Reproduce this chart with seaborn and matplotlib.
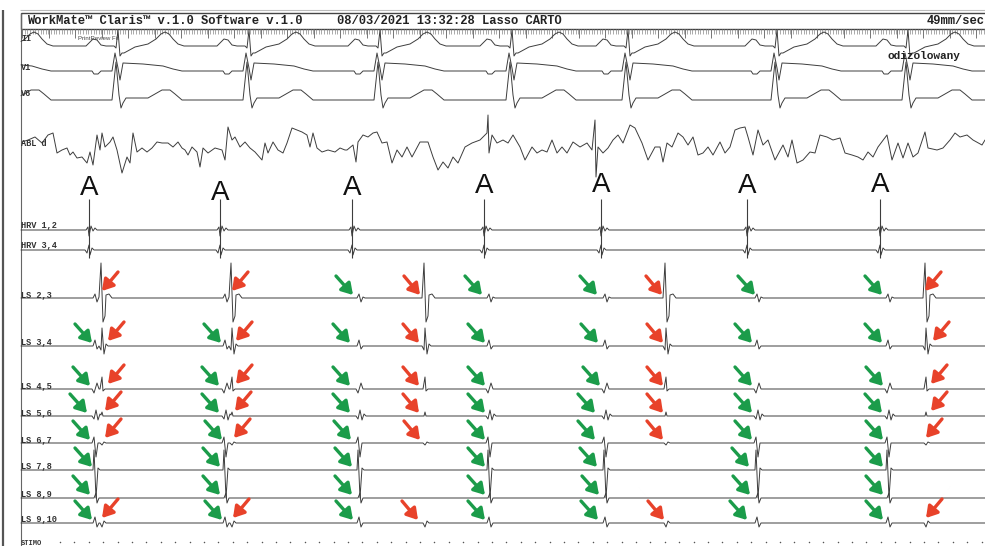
import numpy as np
import pandas as pd
import seaborn as sns
from matplotlib import pyplot as plt
from matplotlib.patches import Rectangle

# ---- beat timing along the sweep (px of paper) ----
qrs_times = [-13, 118, 249, 380, 512, 628, 777, 908]
a_times = [89, 220, 352, 484, 601, 747, 880]
local_times = [95, 225, 359, 489, 605, 757, 888]
farfield_times = [102, 232, 425, 666, 926]

# ---- waveform templates: (offset, amplitude) ----
ii_beat = [(-32, 0), (-28, 4), (-25, 7), (-21, 6), (-17, 1), (-12, 0), (-4, 0), (-2, -2),
           (0, 16), (2, -10), (4, -7), (6, -7), (17, -1), (30, 2), (38, 7), (43, 12),
           (47, 14), (51, 12), (55, 7), (60, 2), (66, 0)]
v1_beat = [(-26, 0), (-24, -3), (-20, -3), (-17, 0), (-6, 0), (-3, 18), (0, 3), (2, -9),
           (5, 8), (25, 7), (45, 5), (55, 2), (64, 0)]
v6_beat = [(-6, 0), (-2, 38), (1, 5), (3, -8), (5, -3), (8, 2), (30, 2), (37, 6),
           (44, 10), (52, 10), (57, 6), (64, 0)]
hrv12_atrial = [(-3, 0), (-1, 3), (0, -6), (2, 4), (4, -1), (6, 2), (8, 0)]
hrv34_atrial = [(-4, 0), (-2, -3), (0, 5), (1, -5), (3, 2), (5, 0)]

# ablation catheter, distal: irregular signal
abl_t = [22, 28, 35, 42, 48, 53, 57, 62, 67, 70, 73, 77, 82, 87, 90, 93, 97, 100, 102, 105,
         110, 113, 117, 122, 127, 130, 133, 137, 142, 147, 152, 157, 162, 168, 173, 178, 182,
         185, 188, 192, 197, 200, 203, 208, 215, 222, 225, 228, 232, 235, 240, 245, 250, 255,
         262, 265, 268, 273, 278, 283, 287, 292, 297, 302, 307, 310, 313, 317, 322, 328, 335,
         340, 345, 347, 353, 356, 358, 363, 368, 373, 377, 382, 387, 392, 397, 402, 407, 412,
         420, 428, 433, 438, 443, 448, 453, 458, 465, 472, 480, 487, 488, 489, 492, 497, 503,
         508, 513, 520, 525, 532, 537, 542, 547, 552, 557, 562, 567, 573, 580, 587, 592, 595,
         596, 598, 603, 608, 613, 618, 623, 630, 635, 642, 648, 655, 660, 663, 667, 672, 678,
         683, 688, 693, 698, 703, 708, 713, 720, 725, 730, 735, 740, 745, 748, 753, 758, 763,
         768, 775, 783, 788, 792, 797, 803, 810, 815, 820, 827, 833, 840, 845, 852, 858, 863,
         868, 873, 878, 887, 892, 898, 903, 908, 913, 918, 925, 928, 937, 943, 950, 955, 960,
         967, 973, 982, 985]
abl_amp = [6, 8, 11, 5, 13, 15, -5, -2, 0, -7, -4, -10, -9, -15, -4, -17, 13, -2, 15, 1,
           6, 11, -2, -25, -9, -15, 15, -4, 0, -4, 0, 6, 5, 5, 1, 6, 0,
           -2, -7, 1, -4, -19, 0, -5, 0, -2, -12, 21, 8, 11, 1, 6, 0, -4,
           -12, 5, -5, 6, -2, -5, 5, 20, 18, 16, 13, 1, 15, 0, -4, -2, -4,
           0, -2, -2, 3, -14, 6, 13, 11, 15, 16, 5, 6, -15, -2, -9, 1, -9,
           6, 6, -9, -22, -14, -20, -9, -15, 1, 5, 8, 15, 33, -5, 13, 5, 8,
           5, 13, 1, -12, 1, -5, -2, -4, 8, -5, 1, -5, 6, 1, 5, -2, 28,
           -29, 1, -5, 0, 8, 13, 5, 23, 20, 5, -12, 1, 1, -14, 5, 1, 15,
           11, 3, 11, -7, -5, 1, -7, 6, -5, 1, 18, 20, 21, 11, -7, 18, 3,
           8, -12, 3, -9, 8, -15, -12, -4, -5, 13, 11, 8, 10, -5, -7, -9, -12,
           -4, -9, 1, 13, -12, 5, -10, 5, -9, -5, 16, 0, -2, 0, 8, 15, 11,
           13, 8, 3, 8]

# lasso bipoles: local PV potential and far-field component
ls_local = {
    'LS 2,3': [(-2, 0), (0, 4), (2, -4), (4, 1), (6, 0)],
    'LS 3,4': [(-2, 0), (0, 6), (2, -3), (4, 0)],
    'LS 4,5': [(-3, 0), (-1, -4), (2, 6), (4, 0)],
    'LS 5,6': [(-3, 0), (-1, -3), (1, 6), (3, -4), (5, 2), (7, 0)],
    'LS 6,7': [(-3, 0), (-1, 6), (1, -14), (3, 0)],
    'LS 7,8': [(-2, 0), (-1, 20), (1, -28), (3, 2), (5, 0)],
    'LS 8,9': [(-1, 0), (1, 5), (2, -5), (4, 0)],
    'LS 9,10': [(-2, 0), (0, 6), (2, -4), (4, 0)],
}
ls_far = {
    'LS 2,3': [(-3, 0), (-1, 35), (1, -24), (3, -18), (4, 3), (7, 4), (10, 0)],
    'LS 3,4': [(-3, 0), (-1, -4), (0, 18), (2, -8), (4, 2), (6, 0)],
    'LS 4,5': [(-2, 0), (0, 12), (1, -2), (3, 0)],
    'LS 5,6': [(-1, 0), (0, 4), (1, 0)],
    'LS 6,7': [(-2, 0), (0, -2), (2, 1), (4, 0)],
    'LS 7,8': [],
    'LS 8,9': [],
    'LS 9,10': [(-2, 0), (0, -4), (2, 2), (4, 0)],
}

# annotated activations (arrow tip along the sweep)
green_arrows = {
    'LS 2,3': [353, 482, 597, 755, 882],
    'LS 3,4': [92, 221, 350, 485, 598, 752, 882],
    'LS 4,5': [90, 219, 350, 485, 600, 752, 883],
    'LS 5,6': [87, 219, 350, 485, 595, 752, 882],
    'LS 6,7': [90, 222, 351, 485, 595, 752, 883],
    'LS 7,8': [92, 220, 352, 485, 597, 749, 883],
    'LS 8,9': [90, 220, 352, 485, 599, 750, 883],
    'LS 9,10': [92, 222, 353, 485, 598, 747, 883],
}
red_arrows_left = {
    'LS 2,3': [102, 232, 925], 'LS 3,4': [108, 236, 933], 'LS 4,5': [108, 236, 931],
    'LS 5,6': [105, 235, 931], 'LS 6,7': [105, 234, 926], 'LS 9,10': [102, 233, 926],
}
red_arrows_right = {
    'LS 2,3': [420, 662], 'LS 3,4': [419, 663], 'LS 4,5': [419, 663],
    'LS 5,6': [419, 663], 'LS 6,7': [420, 663], 'LS 9,10': [418, 664],
}

channels = ['II', 'V1', 'V6', 'ABL d', 'HRV 1,2', 'HRV 3,4', 'LS 2,3', 'LS 3,4',
            'LS 4,5', 'LS 5,6', 'LS 6,7', 'LS 7,8', 'LS 8,9', 'LS 9,10']

# ---- layout (paper px) ----
baseline = dict(zip(channels, [46, 71, 100, 148, 230, 250, 298, 346, 389, 416, 443, 470, 498, 523]))
label_y = dict(zip(channels, [41, 70, 96, 146, 228, 248, 298, 345, 389, 416, 443, 469, 497, 522]))
a_text_y = [188, 193, 188, 186, 185, 186, 185]
T0, T1 = 21, 985


def build(parts):
    ts = {T0, T1}
    for times, tpl in parts:
        for t0 in times:
            ts.update(t0 + dt for dt, _ in tpl)
    ts = np.array(sorted(t for t in ts if T0 <= t <= T1), dtype=float)
    amp = np.zeros_like(ts)
    for times, tpl in parts:
        if not tpl:
            continue
        dts = np.array([p[0] for p in tpl], dtype=float)
        amps = [p[1] for p in tpl]
        for t0 in times:
            amp += np.interp(ts, dts + t0, amps, left=0, right=0)
    return ts, amp


traces = {
    'II': build([(qrs_times, ii_beat)]),
    'V1': build([(qrs_times, v1_beat)]),
    'V6': build([(qrs_times, v6_beat)]),
    'ABL d': (np.array(abl_t, dtype=float), np.array(abl_amp, dtype=float)),
    'HRV 1,2': build([(a_times, hrv12_atrial)]),
    'HRV 3,4': build([(a_times, hrv34_atrial)]),
}
for ch in channels[6:]:
    traces[ch] = build([(local_times, ls_local[ch]), (farfield_times, ls_far[ch])])

frames = []
for ch in channels:
    t, a = traces[ch]
    frames.append(pd.DataFrame({'t': t, 'y': baseline[ch] - a, 'channel': ch}))
df = pd.concat(frames, ignore_index=True)

sns.set_theme(style='white')
plt.rcParams['font.family'] = ['Liberation Sans', 'DejaVu Sans']
MONO = ['Liberation Mono', 'DejaVu Sans Mono']
INK = '#3d3d3d'
GREEN = '#1b9c4a'
RED = '#e8422a'

fig = plt.figure(figsize=(9.85, 5.46), dpi=100)
ax = fig.add_axes([0, 0, 1, 1])

# page frame and header
ax.vlines(3, 10, 546, color='#555555', lw=1.6)
ax.vlines(20.5, 12.5, 546, color='#666666', lw=0.8)
ax.hlines(9.5, 20, 985, color='#bbbbbb', lw=0.8)
ax.add_patch(Rectangle((20.5, 12.5), 975, 16.5, fill=False, ec='#444444', lw=1.0))
ax.text(27, 21, 'WorkMate\u2122 Claris\u2122 v.1.0 Software v.1.0', family=MONO,
        weight='bold', fontsize=8.7, va='center', color='#222222')
ax.text(337, 21, '08/03/2021 13:32:28 Lasso CARTO', family=MONO, weight='bold',
        fontsize=8.7, va='center', color='#222222')
ax.text(985, 21, '49mm/sec', family=MONO, weight='bold', fontsize=8.7, va='center',
        ha='right', color='#222222')

# timing ruler under the header
ax.vlines(np.arange(22, 985, 2.65), 29, 33.5, color='#888888', lw=0.5)
ax.vlines(np.arange(22, 985, 26.5), 29, 38, color='#777777', lw=0.7)

# signal traces
sns.lineplot(data=df, x='t', y='y', units='channel', estimator=None, sort=False,
             color=INK, lw=0.7, ax=ax, legend=False)
ax.set_xlim(0, 985)
ax.set_ylim(546, 0)
ax.axis('off')

for ch in channels:
    ax.text(21, label_y[ch], ch, family=MONO, weight='bold', fontsize=6.2,
            va='baseline', color='#333333')
ax.text(78, 38, 'PrintReview Fit', fontsize=4.3, va='center', color='#444444')
ax.text(888, 56, 'odizolowany', family=MONO, weight='bold', fontsize=8.0,
        va='center', color='#222222')

# atrial markers
ax.vlines(a_times, 199, 258, color=INK, lw=0.8)
for t, y in zip(a_times, a_text_y):
    ax.text(t, y, 'A', ha='center', va='center', fontsize=20, color='#111111')

# stim channel timing dots
stim_ticks = np.arange(60, 985, 14.4)
ax.scatter(stim_ticks, np.full(len(stim_ticks), 541.5), s=1.2, color='#555555', lw=0)
ax.text(21, 545, 'STIMO', family=MONO, weight='bold', fontsize=5.0, va='baseline',
        color='#333333')

# arrows
ARROW = dict(arrowstyle='-|>,head_width=0.4,head_length=0.65', lw=2.4,
             shrinkA=0, shrinkB=0, mutation_scale=10)


def arrow(t, y, dx, color):
    ax.annotate('', xy=(t, y), xytext=(t + dx, y - 19),
                arrowprops=dict(ARROW, color=color))


for ch, ts in green_arrows.items():
    for t in ts:
        arrow(t, baseline[ch] - 3, -17, GREEN)
for ch, ts in red_arrows_left.items():
    for t in ts:
        arrow(t, baseline[ch] - (7 if ch == 'LS 2,3' else 5), 16, RED)
for ch, ts in red_arrows_right.items():
    for t in ts:
        arrow(t, baseline[ch] - 3, -16, RED)

fig.savefig('out.png', dpi=100)
